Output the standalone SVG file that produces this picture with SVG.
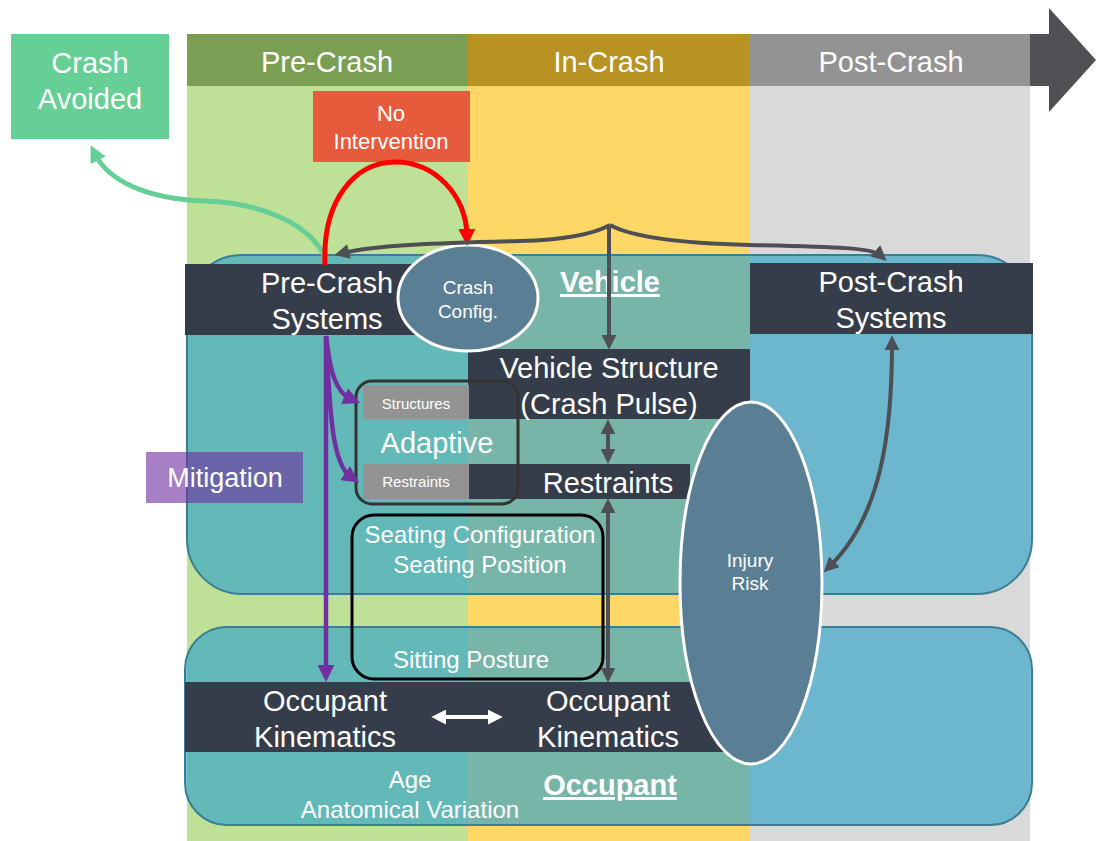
<svg xmlns="http://www.w3.org/2000/svg" width="1096" height="841" viewBox="0 0 1096 841">
<style>
text{font-family:"Liberation Sans",Arial,sans-serif;fill:#fff;text-anchor:middle}
.t29{font-size:29px}
.t24{font-size:24px}
.t22{font-size:22px}
.t19{font-size:19px}
.t15{font-size:15px}
.b{font-weight:bold;text-decoration:underline}
.bar{fill:#363d4a}
.grp{fill:#38a5c8;fill-opacity:0.68;stroke:#3a7d94;stroke-width:2}
.ell{fill:#5a7e93;stroke:#fff;stroke-width:3}
.gc{fill:none;stroke:#4e4f55;stroke-width:4}
.pc{fill:none;stroke:#7030a0;stroke-width:4.5}
</style>
<defs>
<marker id="ag" viewBox="0 0 12 12" refX="5" refY="6" markerWidth="15" markerHeight="15" markerUnits="userSpaceOnUse" orient="auto-start-reverse"><path d="M0,0 L12,6 L0,12 z" fill="#4e4f55"/></marker>
<marker id="ar" viewBox="0 0 12 12" refX="5" refY="6" markerWidth="17" markerHeight="17" markerUnits="userSpaceOnUse" orient="auto"><path d="M0,0 L12,6 L0,12 z" fill="#ff0000"/></marker>
<marker id="agr" viewBox="0 0 12 12" refX="5" refY="6" markerWidth="17" markerHeight="17" markerUnits="userSpaceOnUse" orient="auto"><path d="M0,0 L12,6 L0,12 z" fill="#66cf96"/></marker>
<marker id="ap" viewBox="0 0 12 12" refX="5" refY="6" markerWidth="17" markerHeight="17" markerUnits="userSpaceOnUse" orient="auto"><path d="M0,0 L12,6 L0,12 z" fill="#7030a0"/></marker>
<marker id="aw" viewBox="0 0 12 12" refX="5" refY="6" markerWidth="15" markerHeight="15" markerUnits="userSpaceOnUse" orient="auto-start-reverse"><path d="M0,0 L12,6 L0,12 z" fill="#fff"/></marker>
</defs>

<g id="timeline">
<rect x="187" y="86" width="281" height="755" fill="#bfe197"/>
<rect x="468" y="86" width="282" height="755" fill="#fdd766"/>
<rect x="750" y="86" width="280" height="755" fill="#d9d9d9"/>
<rect x="187" y="34" width="281" height="52" fill="#7a9e52"/>
<rect x="468" y="34" width="282" height="52" fill="#b89222"/>
<rect x="750" y="34" width="280" height="52" fill="#939393"/>
<rect x="1030" y="34" width="20" height="52" fill="#505055"/>
<polygon points="1049,8 1096,60 1049,112" fill="#505055"/>
<text class="t29" x="327" y="72">Pre-Crash</text>
<text class="t29" x="609" y="72">In-Crash</text>
<text class="t29" x="891" y="72">Post-Crash</text>
</g>

<g id="crash-avoided">
<rect x="11" y="34" width="158" height="105" fill="#66cf96"/>
<text class="t29" x="90" y="73">Crash</text>
<text class="t29" x="90" y="109">Avoided</text>
</g>

<g id="no-intervention">
<rect x="313" y="91" width="157" height="71" fill="#e55b3c"/>
<text class="t22" x="391" y="121">No</text>
<text class="t22" x="391" y="149">Intervention</text>
</g>

<g id="vehicle">
<rect class="grp" x="187" y="255" width="845" height="339" rx="55"/>
<text class="t29 b" x="610" y="292">Vehicle</text>
</g>

<g id="occupant">
<rect class="grp" x="185" y="627" width="847" height="198" rx="42"/>
<text class="t24" x="410" y="788">Age</text>
<text class="t24" x="410" y="818">Anatomical Variation</text>
<text class="t29 b" x="610" y="795">Occupant</text>
</g>

<g id="pre-crash-systems">
<rect class="bar" x="185" y="264" width="283" height="71"/>
<text class="t29" x="327" y="293">Pre-Crash</text>
<text class="t29" x="327" y="329">Systems</text>
</g>

<g id="post-crash-systems">
<rect class="bar" x="750" y="263" width="283" height="71"/>
<text class="t29" x="891" y="292">Post-Crash</text>
<text class="t29" x="891" y="328">Systems</text>
</g>

<g id="vehicle-structure">
<rect class="bar" x="468" y="349" width="282" height="70"/>
<text class="t29" x="609" y="378">Vehicle Structure</text>
<text class="t29" x="609" y="414">(Crash Pulse)</text>
</g>

<g id="restraints">
<rect class="bar" x="468" y="464" width="222" height="35"/>
<text class="t29" x="608" y="493">Restraints</text>
</g>

<g id="occupant-kinematics">
<rect class="bar" x="185" y="682" width="565" height="70"/>
<text class="t29" x="325" y="711">Occupant</text>
<text class="t29" x="325" y="747">Kinematics</text>
<text class="t29" x="608" y="711">Occupant</text>
<text class="t29" x="608" y="747">Kinematics</text>
</g>

<g id="adaptive">
<rect x="363" y="385" width="106" height="34" fill="#939393"/>
<rect x="363" y="464" width="106" height="35" fill="#939393"/>
<text class="t15" x="416" y="409">Structures</text>
<text class="t15" x="416" y="487">Restraints</text>
<text class="t29" x="437" y="453">Adaptive</text>
<rect x="356" y="381" width="162" height="123" rx="16" fill="none" stroke="#333" stroke-width="3"/>
</g>

<g id="seating">
<rect x="352" y="515" width="251" height="164" rx="22" fill="none" stroke="#000" stroke-width="3"/>
<text class="t24" x="480" y="543">Seating Configuration</text>
<text class="t24" x="480" y="573">Seating Position</text>
<text class="t24" x="471" y="668">Sitting Posture</text>
</g>

<g id="mitigation">
<rect x="146" y="452" width="157" height="51" fill="#7030a0" fill-opacity="0.62"/>
<text class="t29" x="225" y="487" style="font-size:27px">Mitigation</text>
</g>

<g id="crash-config">
<ellipse class="ell" cx="468" cy="298" rx="70" ry="53"/>
<text class="t19" x="468" y="294">Crash</text>
<text class="t19" x="468" y="318">Config.</text>
</g>

<g id="injury-risk">
<ellipse class="ell" cx="751" cy="583" rx="71" ry="181"/>
<text class="t19" x="750" y="567">Injury</text>
<text class="t19" x="750" y="590">Risk</text>
</g>

<g id="connectors">
<path d="M325 258 C312 226 265 203 205 201 C145 199 108 180 95 154" fill="none" stroke="#66cf96" stroke-width="5" marker-end="url(#agr)"/>
<path d="M325 265 C322 200 355 162 395 162 C435 162 466 195 467 236" fill="none" stroke="#ff0000" stroke-width="5" marker-end="url(#ar)"/>
<path class="gc" d="M610 225 C590 236 560 240 520 241 C440 243 375 245 343 253" marker-end="url(#ag)"/>
<path class="gc" d="M610 225 C630 236 670 243 749 245 C840 247 872 248 880 255" marker-end="url(#ag)"/>
<path class="gc" d="M609 225 L609 341" marker-end="url(#ag)"/>
<path class="gc" d="M608 428 L608 455" marker-start="url(#ag)" marker-end="url(#ag)"/>
<path class="gc" d="M608 507 L608 674" marker-start="url(#ag)" marker-end="url(#ag)" stroke-width="3.5"/>
<path class="gc" d="M892 344 C892 430 882 515 830 566" marker-start="url(#ag)" marker-end="url(#ag)"/>
<path d="M440 717 L494 717" fill="none" stroke="#fff" stroke-width="4" marker-start="url(#aw)" marker-end="url(#aw)"/>
<path class="pc" d="M326 336 L326 672" marker-end="url(#ap)"/>
<path class="pc" d="M326 336 C330 370 335 392 351 399" marker-end="url(#ap)"/>
<path class="pc" d="M326 336 C330 420 333 465 351 477" marker-end="url(#ap)"/>
</g>
</svg>
